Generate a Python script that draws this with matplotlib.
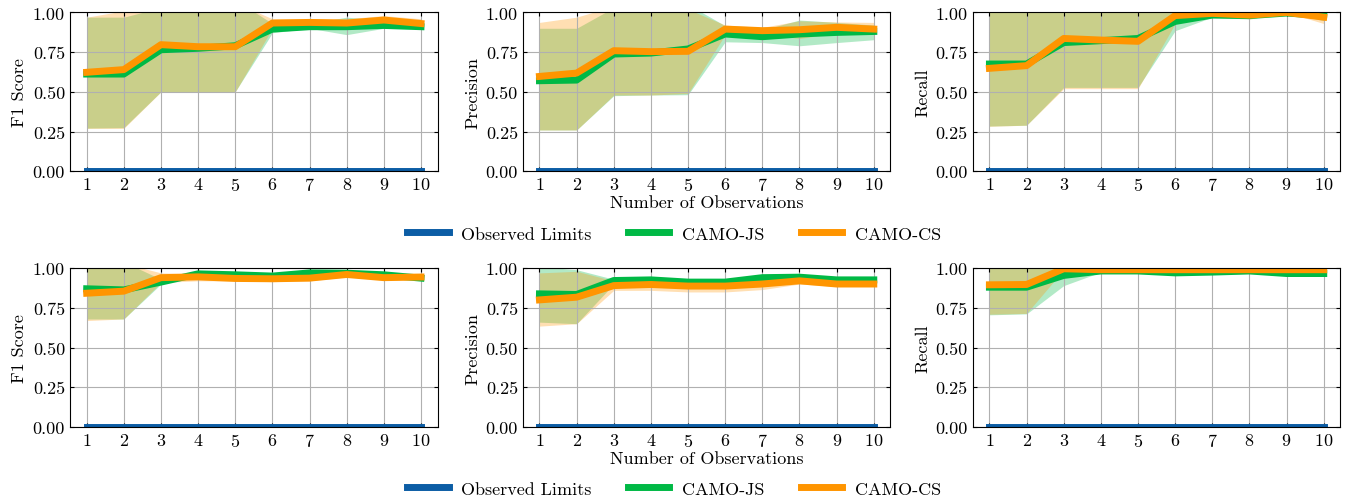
import numpy as np
import matplotlib
matplotlib.use('Agg')
import matplotlib.pyplot as plt

plt.rcParams['font.family'] = ['cmr10', 'DejaVu Serif']
plt.rcParams['mathtext.fontset'] = 'cm'
plt.rcParams['axes.formatter.use_mathtext'] = True
plt.rcParams['font.size'] = 12

# colours (science style)
C_OBS = '#0C5DA5'
C_JS = '#00B945'
C_CS = '#FF9500'

n_obs = np.arange(1, 11)
metrics = ['F1 Score', 'Precision', 'Recall']

# observed limits (flat at zero)
obs_limits = [0.0] * 10

# ---------- row 1 ----------
r1_js_mean = {
    'F1 Score':  [0.612, 0.612, 0.765, 0.774, 0.790, 0.895, 0.910, 0.910, 0.918, 0.910],
    'Precision': [0.570, 0.574, 0.738, 0.744, 0.770, 0.864, 0.847, 0.864, 0.874, 0.880],
    'Recall':    [0.675, 0.675, 0.810, 0.822, 0.836, 0.943, 0.983, 0.980, 0.996, 0.980],
}
r1_js_lo = {
    'F1 Score':  [0.272, 0.275, 0.501, 0.501, 0.501, 0.872, 0.900, 0.860, 0.900, 0.900],
    'Precision': [0.260, 0.260, 0.476, 0.480, 0.482, 0.815, 0.810, 0.790, 0.810, 0.828],
    'Recall':    [0.285, 0.290, 0.528, 0.528, 0.528, 0.885, 0.970, 0.958, 1.000, 0.948],
}
r1_js_hi = {
    'F1 Score':  [0.970, 0.970, 1.030, 1.050, 1.080, 0.930, 0.930, 0.970, 0.950, 0.930],
    'Precision': [0.900, 0.900, 1.030, 1.050, 1.050, 0.916, 0.890, 0.952, 0.937, 0.920],
    'Recall':    [1.060, 1.060, 1.090, 1.110, 1.140, 1.010, 1.000, 1.000, 1.000, 1.010],
}
r1_cs_mean = {
    'F1 Score':  [0.623, 0.640, 0.797, 0.784, 0.784, 0.933, 0.937, 0.933, 0.952, 0.930],
    'Precision': [0.597, 0.618, 0.759, 0.753, 0.755, 0.895, 0.885, 0.891, 0.906, 0.895],
    'Recall':    [0.648, 0.665, 0.836, 0.826, 0.818, 0.980, 0.994, 0.983, 1.000, 0.970],
}
r1_cs_lo = {
    'F1 Score':  [0.270, 0.270, 0.500, 0.500, 0.500, 0.900, 0.920, 0.900, 0.930, 0.910],
    'Precision': [0.260, 0.260, 0.480, 0.480, 0.490, 0.860, 0.865, 0.836, 0.870, 0.860],
    'Recall':    [0.283, 0.290, 0.520, 0.520, 0.520, 0.930, 0.980, 0.960, 1.000, 0.930],
}
r1_cs_hi = {
    'F1 Score':  [0.970, 1.010, 1.060, 1.060, 1.060, 0.960, 0.960, 0.960, 0.980, 0.960],
    'Precision': [0.937, 0.970, 1.040, 1.040, 1.020, 0.920, 0.906, 0.947, 0.940, 0.937],
    'Recall':    [1.010, 1.040, 1.150, 1.130, 1.110, 1.030, 1.010, 1.010, 1.000, 1.010],
}

# ---------- row 2 ----------
r2_js_mean = {
    'F1 Score':  [0.870, 0.863, 0.912, 0.964, 0.958, 0.950, 0.970, 0.968, 0.958, 0.937],
    'Precision': [0.838, 0.834, 0.922, 0.926, 0.912, 0.912, 0.940, 0.943, 0.926, 0.926],
    'Recall':    [0.880, 0.880, 0.954, 0.982, 0.982, 0.970, 0.975, 0.982, 0.966, 0.966],
}
r2_js_lo = {
    'F1 Score':  [0.680, 0.680, 0.900, 0.950, 0.945, 0.940, 0.955, 0.960, 0.950, 0.930],
    'Precision': [0.660, 0.650, 0.900, 0.910, 0.900, 0.900, 0.920, 0.930, 0.915, 0.915],
    'Recall':    [0.706, 0.712, 0.890, 0.975, 0.975, 0.965, 0.970, 0.975, 0.955, 0.955],
}
r2_js_hi = {
    'F1 Score':  [1.040, 1.040, 0.930, 0.975, 0.970, 0.960, 0.985, 0.980, 0.970, 0.950],
    'Precision': [1.010, 0.990, 0.930, 0.940, 0.920, 0.920, 0.955, 0.955, 0.935, 0.940],
    'Recall':    [1.040, 1.040, 1.000, 0.990, 0.990, 0.985, 0.985, 0.990, 0.980, 0.980],
}
r2_cs_mean = {
    'F1 Score':  [0.842, 0.855, 0.940, 0.945, 0.935, 0.933, 0.937, 0.960, 0.940, 0.944],
    'Precision': [0.800, 0.817, 0.890, 0.897, 0.887, 0.887, 0.900, 0.920, 0.900, 0.900],
    'Recall':    [0.895, 0.897, 0.996, 0.990, 0.990, 0.990, 0.990, 0.990, 0.990, 0.990],
}
r2_cs_lo = {
    'F1 Score':  [0.670, 0.680, 0.910, 0.920, 0.920, 0.915, 0.920, 0.945, 0.925, 0.930],
    'Precision': [0.635, 0.650, 0.860, 0.860, 0.850, 0.850, 0.865, 0.900, 0.885, 0.885],
    'Recall':    [0.710, 0.715, 0.990, 0.980, 0.980, 0.980, 0.980, 0.980, 0.980, 0.980],
}
r2_cs_hi = {
    'F1 Score':  [1.020, 1.030, 0.970, 0.965, 0.955, 0.950, 0.955, 0.975, 0.960, 0.960],
    'Precision': [0.970, 0.980, 0.920, 0.930, 0.920, 0.920, 0.930, 0.940, 0.920, 0.920],
    'Recall':    [1.080, 1.080, 1.010, 1.010, 1.010, 1.010, 1.010, 1.010, 1.010, 1.010],
}

rows = [
    (r1_js_mean, r1_js_lo, r1_js_hi, r1_cs_mean, r1_cs_lo, r1_cs_hi),
    (r2_js_mean, r2_js_lo, r2_js_hi, r2_cs_mean, r2_cs_lo, r2_cs_hi),
]

fig = plt.figure(figsize=(13.48, 5.02), dpi=100)

lefts = [0.0519, 0.3878, 0.7216]
width = 0.2728
bottoms = [0.6568, 0.1474]
height = 0.3165
legend_y = [0.532, 0.024]

for r, (js_m, js_lo, js_hi, cs_m, cs_lo, cs_hi) in enumerate(rows):
    for c, metric in enumerate(metrics):
        ax = fig.add_axes([lefts[c], bottoms[r], width, height])
        ax.fill_between(n_obs, js_lo[metric], js_hi[metric], color=C_JS, alpha=0.3, lw=0)
        ax.fill_between(n_obs, cs_lo[metric], cs_hi[metric], color=C_CS, alpha=0.3, lw=0)
        ax.plot(n_obs, obs_limits, color=C_OBS, lw=5, label='Observed Limits')
        ax.plot(n_obs, js_m[metric], color=C_JS, lw=5, label='CAMO-JS')
        ax.plot(n_obs, cs_m[metric], color=C_CS, lw=5, label='CAMO-CS')
        ax.set_ylim(0, 1)
        ax.set_xticks(n_obs)
        ax.set_yticks([0, 0.25, 0.5, 0.75, 1.0])
        ax.set_yticklabels(['0.00', '0.25', '0.50', '0.75', '1.00'])
        ax.set_ylabel(metric, fontsize=13)
        ax.grid(True, color='#b0b0b0', lw=0.8)
        ax.tick_params(direction='in', top=True, right=True, length=3, labelsize=13)
        for s in ax.spines.values():
            s.set_linewidth(0.8)
        if c == 1:
            ax.set_xlabel('Number of Observations', fontsize=13, labelpad=1)
        if c == 0:
            handles, labels = ax.get_legend_handles_labels()
    fig.legend(handles, labels, loc='center', bbox_to_anchor=(0.5, legend_y[r]),
               ncol=3, frameon=False, fontsize=13, handlelength=2.3,
               handletextpad=0.7, columnspacing=2.0)

fig.savefig('out.png', dpi=100)
